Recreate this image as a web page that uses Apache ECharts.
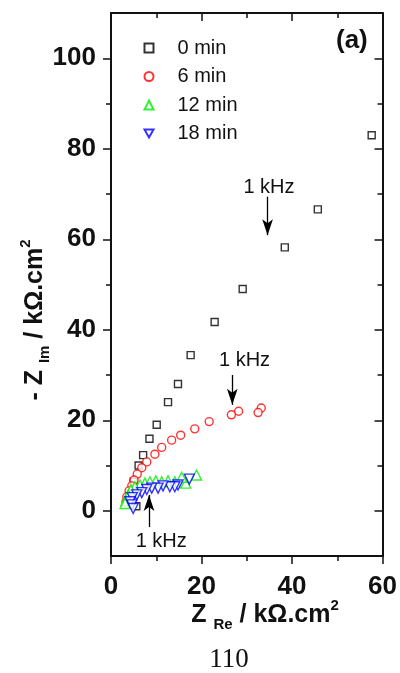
<!DOCTYPE html>
<html><head><meta charset="utf-8">
<script src="https://cdn.jsdelivr.net/npm/echarts@6/dist/echarts.min.js"></script>
<style>html,body{margin:0;padding:0;background:#fff}#c{width:400px;height:673px}</style>
</head><body><div id="c"></div>
<script>
// ---- data ----
const seriesNames = ['0 min', '6 min', '12 min', '18 min'];
const x0  = [57.6,45.7,38.4,29.1,22.9,17.6,14.8,12.6,10.1,8.5,7.1,6.1,5.0,5.6];
const y0  = [83.0,66.6,58.2,49.0,41.7,34.4,28.0,24.0,19.0,15.9,12.3,10.0,6.4,1.0];
const x6  = [33.2,32.5,28.2,26.6,21.7,18.5,15.4,13.4,11.2,9.7,7.9,6.8,5.8,5.1,4.6,4.0,3.5,3.3];
const y6  = [22.7,21.7,22.0,21.2,19.7,18.1,16.7,15.6,14.0,12.5,10.8,9.5,8.1,6.8,5.5,4.4,3.1,2.0];
const x12 = [18.9,16.5,15.6,14.1,12.6,11.2,9.9,8.6,7.5,6.4,5.3,4.4,3.8,3.3,3.1];
const y12 = [7.9,6.1,7.4,6.4,6.6,6.4,6.6,6.4,6.1,5.7,5.3,4.6,3.5,2.2,1.6];
const x18 = [17.3,14.8,14.1,13.0,11.5,10.4,9.0,7.9,6.8,5.7,4.7,4.2,4.6,4.9];
const y18 = [7.0,5.7,5.3,5.3,5.5,5.0,5.0,4.7,4.0,3.5,2.9,2.0,1.3,0.5];
const xTicks = [0, 20, 40, 60];
const xMinorTicks = [10, 30, 50];
const yTicks = [0, 20, 40, 60, 80, 100];
const yMinorTicks = [10, 30, 50, 70, 90];
// annotations: arrows [x, y start, y end], labels [x, y]
const annText = '1 kHz';
const annArrows = [[34.6, 69.4, 60.9], [26.8, 30.0, 23.4], [8.4, -3.6, 3.5]];
const annLabels = [[34.9, 71.5], [29.5, 33.3], [11.1, -6.9]];

const FONT = "'Liberation Sans', Arial, Helvetica, sans-serif";
const zip = (a, b) => a.map((v, i) => [v, b[i]]);

const chart = echarts.init(document.getElementById('c'), null, {renderer: 'canvas'});
const line = {show: true, onZero: false, lineStyle: {color: '#111', width: 2}};
const noLine = {show: false, onZero: false};
const tickStyle = {color: '#111', width: 1.5};
const labelStyle = {fontFamily: FONT, fontSize: 26, fontWeight: 'bold', color: '#111'};

function mkAxis(type, pos, showLine, vals, len, inside, label, margin) {
  const a = {
    type: 'value', position: pos, splitLine: {show: false},
    axisLine: showLine ? line : noLine,
    axisTick: {show: true, inside, length: len, lineStyle: tickStyle, customValues: vals},
    axisLabel: label ? Object.assign({show: true, margin, customValues: vals}, labelStyle) : {show: false}
  };
  if (type === 'x') { a.min = 0; a.max = 60; a.interval = 10; }
  else { a.min = -10; a.max = 110; a.interval = 10; }
  return a;
}

const hollow = (c) => ({color: '#fff', borderColor: c, borderWidth: 1.4});

const option = {
  animation: false,
  backgroundColor: '#fff',
  grid: {left: 111, right: 17, top: 13, bottom: 117},
  legend: {
    orient: 'vertical', left: 138.5, top: 33,
    itemWidth: 9, itemHeight: 9, itemGap: 8.5,
    textStyle: {fontFamily: FONT, fontSize: 20, color: '#111', lineHeight: 20, padding: [0, 0, 0, 19]},
    data: [
      {name: seriesNames[0]},
      {name: seriesNames[1]},
      {name: seriesNames[2]},
      {name: seriesNames[3], icon: 'path://M0,0 L10,0 L5,9 Z'}
    ]
  },
  xAxis: [
    mkAxis('x', 'bottom', true, xTicks, 8, false, true, 18),
    mkAxis('x', 'top', true, xTicks, 8, true, false),
    mkAxis('x', 'bottom', false, xMinorTicks, 5, false, false),
    mkAxis('x', 'top', false, xMinorTicks, 5, true, false)
  ],
  yAxis: [
    mkAxis('y', 'left', true, yTicks, 8, false, true, 15),
    mkAxis('y', 'right', true, yTicks, 8, true, false),
    mkAxis('y', 'left', false, yMinorTicks, 5, false, false),
    mkAxis('y', 'right', false, yMinorTicks, 5, true, false)
  ],
  series: [
    {name: seriesNames[0], type: 'scatter', symbol: 'rect', symbolSize: 7,
     itemStyle: hollow('#000'), data: zip(x0, y0), z: 2,
     markLine: {
       silent: true, symbol: ['none', 'arrow'], symbolSize: [8, 16],
       lineStyle: {color: '#000', width: 1.3, type: 'solid'}, label: {show: false},
       data: annArrows.map(a => [{coord: [a[0], a[1]]}, {coord: [a[0], a[2]]}])
     },
     markPoint: {
       silent: true, symbol: 'circle', symbolSize: 0,
       label: {show: true, position: 'inside', formatter: annText, fontFamily: FONT, fontSize: 20, color: '#111'},
       data: annLabels.map(p => ({coord: p}))
     }},
    {name: seriesNames[1], type: 'scatter', symbol: 'circle', symbolSize: 8,
     itemStyle: hollow('#ff0000'), data: zip(x6, y6), z: 3},
    {name: seriesNames[2], type: 'scatter', symbol: 'triangle', symbolSize: 10,
     itemStyle: hollow('#00ee00'), data: zip(x12, y12), z: 4},
    {name: seriesNames[3], type: 'scatter', symbol: 'triangle', symbolRotate: 180, symbolSize: 10,
     itemStyle: hollow('#0000ff'), data: zip(x18, y18), z: 5}
  ],
  graphic: [
    {type: 'text', left: 336, top: 28, style: {text: '(a)', font: "bold 26px " + FONT, fill: '#111'}},
    {type: 'text', x: 265, y: 615,
     style: {
       text: '{b|Z }{s|Re}{b| / kΩ.cm}{p|2}', align: 'center', verticalAlign: 'middle',
       rich: {
         b: {fontFamily: FONT, fontSize: 25, fontWeight: 'bold', fill: '#111', lineHeight: 34, verticalAlign: 'middle'},
         s: {fontFamily: FONT, fontSize: 15, fontWeight: 'bold', fill: '#111', lineHeight: 34, verticalAlign: 'bottom'},
         p: {fontFamily: FONT, fontSize: 15, fontWeight: 'bold', fill: '#111', lineHeight: 34, verticalAlign: 'top'}
       }
     }},
    {type: 'text', x: 35, y: 320, rotation: Math.PI / 2,
     style: {
       text: '{b|- Z }{s|Im}{b| / kΩ.cm}{p|2}', align: 'center', verticalAlign: 'middle',
       rich: {
         b: {fontFamily: FONT, fontSize: 25, fontWeight: 'bold', fill: '#111', lineHeight: 34, verticalAlign: 'middle'},
         s: {fontFamily: FONT, fontSize: 15, fontWeight: 'bold', fill: '#111', lineHeight: 34, verticalAlign: 'bottom'},
         p: {fontFamily: FONT, fontSize: 15, fontWeight: 'bold', fill: '#111', lineHeight: 34, verticalAlign: 'top'}
       }
     }},
    {type: 'text', x: 229, y: 660, style: {text: '110', font: "27px 'Liberation Serif', 'Times New Roman', serif", fill: '#111', align: 'center', verticalAlign: 'middle'}}
  ]
};
chart.setOption(option);
</script>
</body></html>
